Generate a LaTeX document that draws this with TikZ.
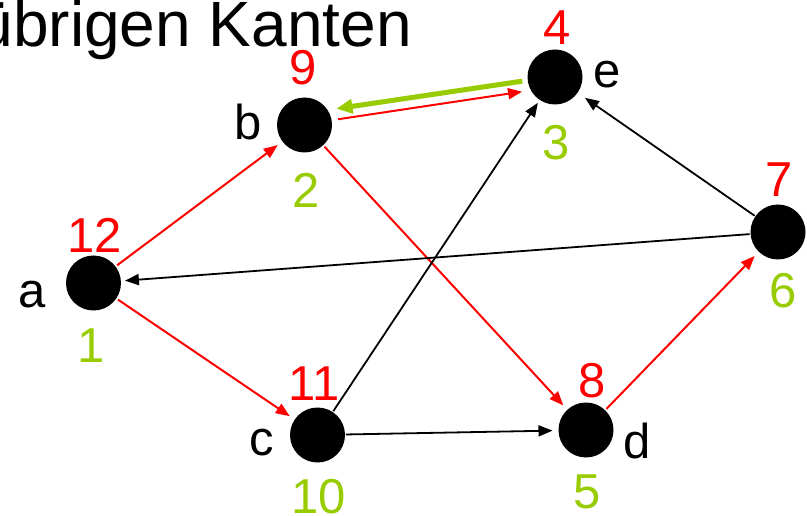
\documentclass[tikz,border=0pt]{standalone}
\usepackage{fontspec}
\setmainfont{Liberation Sans}
\usetikzlibrary{arrows.meta}
\definecolor{myred}{RGB}{255,0,0}
\definecolor{mygreen}{RGB}{153,204,0}
\begin{document}
\begin{tikzpicture}[x=1pt,y=-1pt,
  vert/.style={circle,fill=black,minimum size=55pt,inner sep=0pt,outer sep=0pt},
  lbl/.style={inner sep=0pt,anchor=base,font=\fontsize{49}{49}\selectfont},
  rednum/.style={lbl,text=myred},
  grnnum/.style={lbl,text=mygreen},
  redarr/.style={draw=myred,line width=2pt,-{Triangle[length=14pt,width=11pt]},shorten >=6pt,shorten <=2pt},
  blkarr/.style={draw=black,line width=1.8pt,-{Triangle[length=14pt,width=11pt]},shorten >=5pt,shorten <=1pt},
  grnarr/.style={draw=mygreen,line width=5pt,-{Triangle[length=16pt,width=14pt]}}]
\useasboundingbox[fill=white] (0,0) rectangle (807,516);
\node[inner sep=0pt,anchor=base east,font=\fontsize{64}{64}\selectfont] (title) at (412,47) {übrigen Kanten};
% vertices
\node[vert] (a) at (93.5,283) {};
\node[vert] (b) at (304.5,125) {};
\node[vert] (e) at (555,77) {};
\node[vert] (f) at (778,232) {};
\node[vert] (c) at (317.5,435) {};
\node[vert] (d) at (586,430) {};
% letter labels
\node[lbl] (la) at (32,308) {a};
\node[lbl] (lb) at (248,140) {b};
\node[lbl] (le) at (607,88) {e};
\node[lbl] (lc) at (262,455) {c};
\node[lbl] (ld) at (637,458) {d};
% red numbers
\node[rednum] (ra) at (95,253) {12};
\node[rednum] (rb) at (303.5,85) {9};
\node[rednum] (re) at (557,45) {4};
\node[rednum] (rf) at (779,197) {7};
\node[rednum] (rc) at (314,400) {11};
\node[rednum] (rd) at (592,397) {8};
% green numbers
\node[grnnum] (ga) at (91,362) {1};
\node[grnnum] (gb) at (306,208) {2};
\node[grnnum] (ge) at (556,160) {3};
\node[grnnum] (gf) at (783,307) {6};
\node[grnnum] (gc) at (319,513) {10};
\node[grnnum] (gd) at (587,508) {5};
% edges
\draw[redarr] (a) -- (b);
\draw[redarr] (a) -- (c);
\draw[redarr] (b) -- (d);
\draw[redarr] (d) -- (f);
\draw[redarr,shorten <=6.5pt,shorten >=9pt] (b.10) -- (e.209);
\draw[grnarr,shorten <=5.5pt,shorten >=9pt] (e.187) -- (b.33);
\draw[blkarr,shorten >=3.5pt] (c) -- (e);
\draw[blkarr,shorten >=6pt] (c) -- (d);
\draw[blkarr,shorten >=4pt] (f) -- (a);
\draw[blkarr,shorten >=9pt] (f) -- (e);
\end{tikzpicture}
\end{document}
